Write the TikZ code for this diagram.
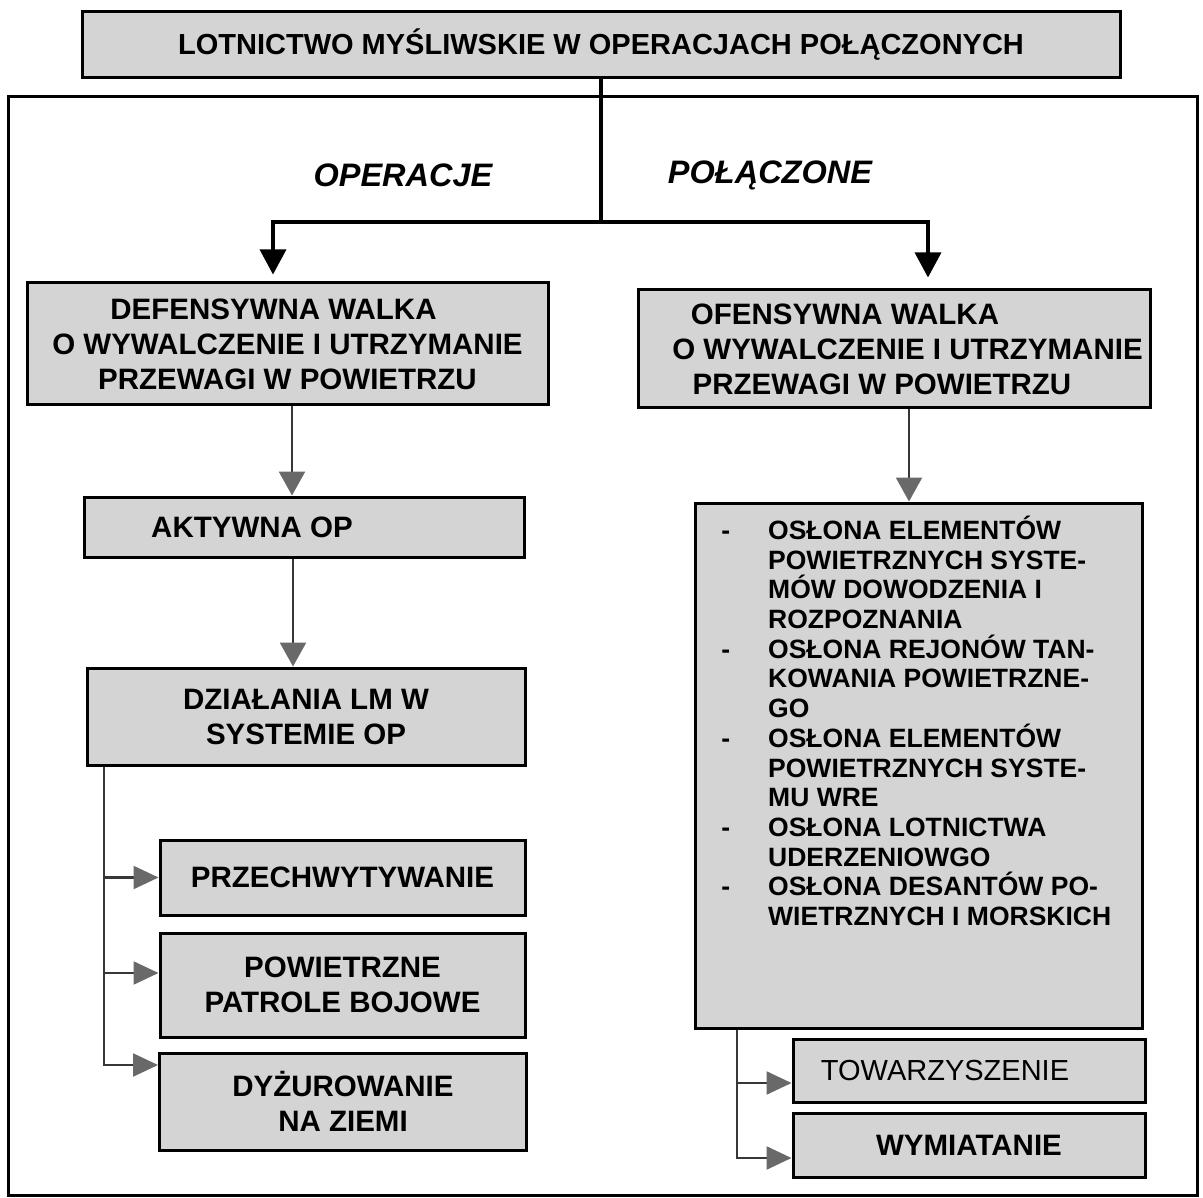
\documentclass[tikz,border=0pt]{standalone}
\usepackage{fontspec}
\setmainfont{Liberation Sans}
\usetikzlibrary{arrows.meta}
\definecolor{boxgrey}{RGB}{212,212,212}
\definecolor{tipgrey}{RGB}{105,105,105}
\definecolor{stemgrey}{RGB}{55,55,55}
\newcommand\panelfont{\fontsize{29.5}{35}\selectfont\bfseries}
\newcommand\titlefont{\fontsize{29}{35}\selectfont\bfseries}
\newcommand\labelfont{\fontsize{32.5}{38}\selectfont\bfseries\itshape}
\newcommand\listfont{\fontsize{26.5}{29.7}\selectfont\bfseries}
\newcommand\plainfont{\fontsize{29}{35}\selectfont}
\newcommand\itemdash{\leavevmode\llap{-\hspace*{38pt}}}
\begin{document}
\begin{tikzpicture}[x=1pt,y=-1pt,
  panel/.style={draw=black, line width=3pt, fill=boxgrey, inner sep=0pt,
    align=center, font=\panelfont},
  mainline/.style={draw=black, line width=3.2pt},
  bigtip/.style={-{Triangle[length=25pt,width=26pt]}},
  greyarrow/.style={draw=stemgrey, line width=2.4pt,
    -{Triangle[length=24pt,width=26pt,color=tipgrey]}},
  sidearrow/.style={draw=stemgrey, line width=2.4pt,
    -{Triangle[length=25pt,width=23pt,color=tipgrey]}}]
\useasboundingbox (0,0) rectangle (1203,1198);

% outer frame
\draw[line width=3pt] (8,97) rectangle (1197,1195);

% boxes
\node[panel, minimum width=1038pt, minimum height=66pt, font=\titlefont]
  (title) at (601,45) {LOTNICTWO MYŚLIWSKIE W OPERACJACH POŁĄCZONYCH};

\node[font=\labelfont] (lop) at (403,175) {OPERACJE};
\node[font=\labelfont] (lpol) at (770,175) {POŁĄCZONE};

\node[panel, minimum width=521pt, minimum height=122pt] (def) at (287.5,344)
  {DEFENSYWNA WALKA\hspace*{28pt}\\O WYWALCZENIE I UTRZYMANIE\\PRZEWAGI W POWIETRZU};
\node[panel, minimum width=512pt, minimum height=118pt] (off) at (894,349)
  {OFENSYWNA WALKA\hspace*{98pt}\\\hspace*{27pt}O WYWALCZENIE I UTRZYMANIE\\PRZEWAGI W POWIETRZU\hspace*{24pt}};

\node[panel, minimum width=440pt, minimum height=60pt] (akt) at (304,527)
  {AKTYWNA OP\hspace*{104pt}};
\node[panel, minimum width=438pt, minimum height=97pt] (dz) at (306,716.5)
  {DZIAŁANIA LM W\\SYSTEMIE OP};
\node[panel, minimum width=365pt, minimum height=75pt] (prz) at (342.5,877.5)
  {PRZECHWYTYWANIE};
\node[panel, minimum width=365pt, minimum height=104pt] (pow) at (342.5,985)
  {POWIETRZNE\\PATROLE BOJOWE};
\node[panel, minimum width=367pt, minimum height=97pt] (dyz) at (343,1101.5)
  {DYŻUROWANIE\\NA ZIEMI};

\node[panel, minimum width=447pt, minimum height=525pt] (osl) at (918.5,765.5) {};
\node[anchor=base west, inner sep=0pt] (osltext) at (768,539.5)
  {\parbox[t]{420pt}{\listfont
   \itemdash OSŁONA ELEMENTÓW\newline
   POWIETRZNYCH SYSTE-\newline
   MÓW DOWODZENIA I\newline
   ROZPOZNANIA\newline
   \itemdash OSŁONA REJONÓW TAN-\newline
   KOWANIA POWIETRZNE-\newline
   GO\newline
   \itemdash OSŁONA ELEMENTÓW\newline
   POWIETRZNYCH SYSTE-\newline
   MU WRE\newline
   \itemdash OSŁONA LOTNICTWA\newline
   UDERZENIOWGO\newline
   \itemdash OSŁONA DESANTÓW PO-\newline
   WIETRZNYCH I MORSKICH}};

\node[panel, minimum width=352pt, minimum height=63pt, font=\plainfont] (tow)
  at (969,1070.5) {TOWARZYSZENIE\hspace*{48pt}};
\node[panel, minimum width=352pt, minimum height=64pt] (wym) at (969,1145)
  {WYMIATANIE};

% guide coordinates for connector positions
\coordinate (split) at (601,222);
\coordinate (xDef) at (273,0);
\coordinate (xOff) at (928,0);
\coordinate (xA) at (292,0);
\coordinate (xB) at (293,0);
\coordinate (xC) at (909,0);
\coordinate (xTrunkL) at (104,0);
\coordinate (xTrunkR) at (737,0);
\coordinate (yPow) at (0,973);
\coordinate (yDyz) at (0,1065);
\coordinate (yTow) at (0,1083);
\coordinate (yWym) at (0,1158);

% black top connectors
\draw[mainline] (title.south) -- (split);
\draw[mainline, bigtip, shorten >=7pt] (split) -| (def.north -| xDef);
\draw[mainline, bigtip, shorten >=11pt] (split) -| (off.north -| xOff);

% grey connectors, left column
\draw[greyarrow] (def.south -| xA) -- (akt.north -| xA);
\draw[greyarrow] (akt.south -| xB) -- (dz.north -| xB);
\coordinate (tL) at (dz.south -| xTrunkL);
\draw[sidearrow] (tL) |- (prz.west);
\draw[sidearrow] (tL) |- (pow.west |- yPow);
\draw[sidearrow] (tL) |- (dyz.west |- yDyz);

% grey connectors, right column
\draw[greyarrow] (off.south -| xC) -- (osl.north -| xC);
\coordinate (tR) at (osl.south -| xTrunkR);
\draw[sidearrow] (tR) |- (tow.west |- yTow);
\draw[sidearrow] (tR) |- (wym.west |- yWym);
\end{tikzpicture}
\end{document}
